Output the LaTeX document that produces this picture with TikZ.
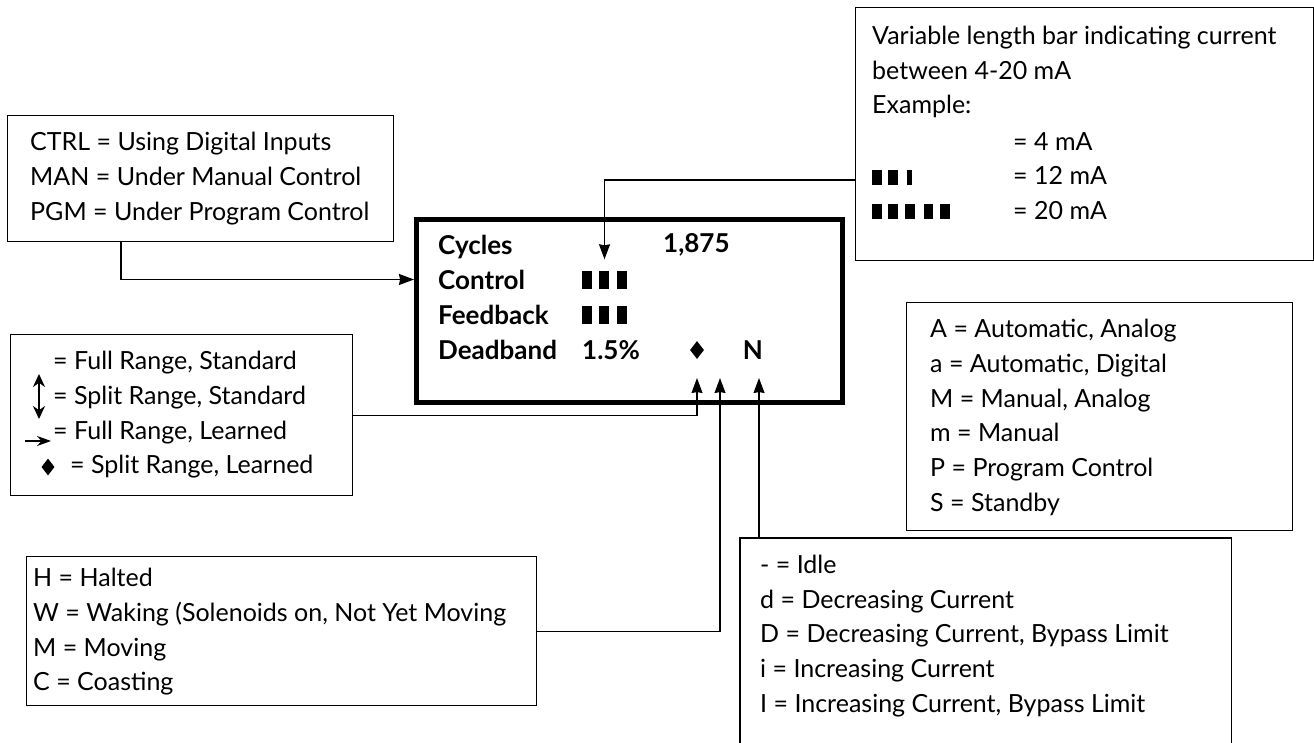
\documentclass[tikz,border=0pt]{standalone}
\usepackage{fontspec}
\setmainfont{Lato}
\usetikzlibrary{positioning, arrows.meta, shapes.geometric}

\newcommand{\barcell}[1][10pt]{\rule{#1}{18pt}}
\newcommand{\smallcell}[1][10pt]{\rule{#1}{15pt}}

\tikzset{
  box/.style={draw, line width=1.3pt, inner sep=0pt, anchor=north west},
  txt/.style={align=left, inner sep=0pt, anchor=west,
    font=\fontsize{25}{34.7}\selectfont},
  lcd/.style={align=left, inner sep=0pt, anchor=west,
    font=\bfseries\fontsize{26}{35}\selectfont},
  gem/.style={diamond, fill, inner sep=0pt, minimum width=14pt,
    minimum height=18pt},
  wire/.style={line width=1.3pt},
  arr/.style={wire, -{Stealth[length=15pt, width=11pt, inset=1pt]}},
}

\begin{document}
\begin{tikzpicture}[x=1pt, y=-1pt]
    \useasboundingbox (0,0) rectangle (1314,742);

    % the display
    \node[box, line width=4.5pt, minimum width=426pt, minimum height=183pt] (display) at (414,217) {};
    \node[lcd] (rows) at (438,297.5) {Cycles\\Control\\Feedback\\Deadband};
    \node[lcd] (count) at (663,245) {1,875};
    \node[inner sep=0pt] (ctrlbars) at (604.5,279.5) {\barcell\hspace{7pt}\barcell\hspace{8pt}\barcell};
    \node[inner sep=0pt] (fbbars) at (604.5,314.5) {\barcell\hspace{7pt}\barcell\hspace{8pt}\barcell};
    \node[lcd] (band) at (582,350) {1.5\%};
    \node[gem] (diam) at (697,350) {};
    \node[lcd, anchor=center] (nmode) at (753,350) {N};
    \coordinate (tipline) at (0,378);
    \coordinate (motion) at (720,378);

    % legend boxes
    \node[box, minimum width=386pt, minimum height=126pt] (modebox) at (7,115) {};
    \node[txt] (modetxt) at (30,178.5) {CTRL = Using Digital Inputs\\MAN = Under Manual Control\\PGM = Under Program Control};

    \node[box, minimum width=458pt, minimum height=253pt] (barbox) at (855,7) {};
    \node[txt] (bartxt) at (872,72) {Variable length bar indicating current\\between 4-20 mA\\Example:};
    \node[txt] (ma) at (1013,176) {= 4 mA\\= 12 mA\\= 20 mA};
    \node[inner sep=0pt, anchor=west] (twelve) at (872,177) {\smallcell\hspace{6pt}\smallcell\hspace{9pt}\smallcell[5pt]};
    \node[inner sep=0pt, anchor=west] (twenty) at (872,211) {\smallcell\hspace{6pt}\smallcell\hspace{7pt}\smallcell\hspace{9pt}\smallcell[9pt]\hspace{7pt}\smallcell};

    \node[box, minimum width=342pt, minimum height=161pt] (rangebox) at (10,334) {};
    \node[txt] (rangetxt) at (53,415) {= Full Range, Standard\\= Split Range, Standard\\= Full Range, Learned\\\hspace*{17pt}= Split Range, Learned};
    \draw[line width=2.6pt, {Stealth[length=13pt, width=12pt]}-{Stealth[length=13pt, width=12pt]}] (39,374) -- (39,419);
    \draw[line width=2pt, -{Stealth[length=14pt, width=10pt]}] (25,441) -- (51,441);
    \node[gem, minimum width=13pt, minimum height=17pt] (rangegem) at (48,467) {};

    \node[box, minimum width=386pt, minimum height=228pt] (autobox) at (906,302) {};
    \node[txt] (autotxt) at (930,417.5) {A = Automatic, Analog\\a = Automatic, Digital\\M = Manual, Analog\\m = Manual\\P = Program Control\\S = Standby};

    \node[inner sep=0pt, anchor=north west, minimum width=491pt, minimum height=210pt] (trendbox) at (740,538) {};
    \draw[wire] (trendbox.south west) |- (trendbox.north east) -- (trendbox.south east);
    \node[txt] (trendtxt) at (760,636) {- = Idle\\d = Decreasing Current\\D = Decreasing Current, Bypass Limit\\i = Increasing Current\\I = Increasing Current, Bypass Limit};

    \node[box, minimum width=510pt, minimum height=149pt] (statebox) at (26,556) {};
    \node[txt] (statetxt) at (33,632) {H = Halted\\W = Waking (Solenoids on, Not Yet Moving\\M = Moving\\C = Coasting};

    % connectors
    \draw[arr] ([xshift=114pt]modebox.south west) |- (display.west |- ctrlbars);
    \draw[arr] ([yshift=-173pt]barbox.north west) -| ([yshift=11pt]ctrlbars.north);
    \draw[arr] (rangebox.east) -| (diam |- tipline);
    \draw[arr] (statebox.east) -| (motion);
    \draw[arr] ([xshift=6pt]trendbox.north -| nmode) -- ([xshift=6pt]nmode |- tipline);
\end{tikzpicture}
\end{document}
